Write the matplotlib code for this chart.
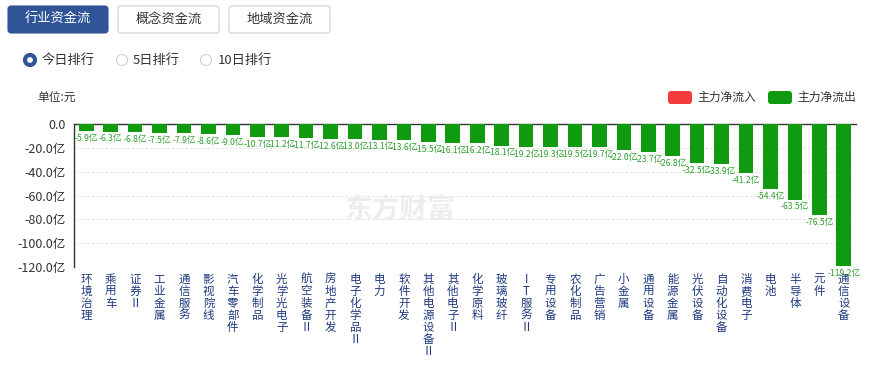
import matplotlib
matplotlib.use("Agg")
import matplotlib.pyplot as plt
from matplotlib.patches import FancyBboxPatch, Circle

plt.rcParams['font.family'] = ['Noto Sans CJK SC', 'DejaVu Sans']

categories = ["环境治理", "乘用车", "证券Ⅱ", "工业金属", "通信服务", "影视院线", "汽车零部件",
              "化学制品", "光学光电子", "航空装备Ⅱ", "房地产开发", "电子化学品Ⅱ", "电力", "软件开发",
              "其他电源设备Ⅱ", "其他电子Ⅱ", "化学原料", "玻璃玻纤", "IT服务Ⅱ", "专用设备", "农化制品",
              "广告营销", "小金属", "通用设备", "能源金属", "光伏设备", "自动化设备", "消费电子",
              "电池", "半导体", "元件", "通信设备"]
values = [-5.9, -6.3, -6.8, -7.5, -7.9, -8.6, -9.0, -10.7, -11.2, -11.7, -12.6, -13.0, -13.1, -13.6,
          -15.5, -16.1, -16.2, -18.1, -19.2, -19.3, -19.5, -19.7, -22.0, -23.7, -26.8, -32.5, -33.9,
          -41.2, -54.4, -63.5, -76.5, -119.2]
yticks = [0, -20, -40, -60, -80, -100, -120]
ytick_labels = ["0.0", "-20.0亿", "-40.0亿", "-60.0亿", "-80.0亿", "-100.0亿", "-120.0亿"]
tabs = ["行业资金流", "概念资金流", "地域资金流"]
radios = ["今日排行", "5日排行", "10日排行"]
legend_labels = ["主力净流入", "主力净流出"]

W, H = 870, 365
GREEN = "#0f9a0f"
RED = "#f23c3c"
NAVY = "#1f3a80"

fig = plt.figure(figsize=(W / 100, H / 100), dpi=100)
fig.patch.set_facecolor("white")

def fx(px):
    return px / W

def fy(py):
    return 1 - py / H

ax = fig.add_axes([fx(74), fy(267), fx(856 - 74), (267 - 124) / H])
x = list(range(len(categories)))
ax.bar(x, values, width=0.6, color=GREEN, zorder=3)
ax.set_ylim(-120, 0)
ax.set_xlim(-0.5, len(categories) - 0.5)
ax.set_yticks(yticks)
ax.set_yticklabels(ytick_labels, fontsize=9, color="#333333")
ax.tick_params(axis="y", length=0, pad=6)
ax.set_xticks([])
for s in ["right", "bottom"]:
    ax.spines[s].set_visible(False)
ax.spines["top"].set_color("#333333")
ax.spines["left"].set_color("#333333")
ax.spines["top"].set_linewidth(1)
ax.spines["left"].set_linewidth(1)
for yt in yticks[1:]:
    ax.axhline(yt, color="#e2e2e2", lw=0.8, ls=(0, (2, 2)), zorder=1)

for xi, v in zip(x, values):
    ax.annotate(f"{v:.1f}亿", (xi, v), xytext=(0, -2), textcoords="offset points",
                ha="center", va="top", fontsize=6.2, color="#2e9e2e", zorder=4)

for xi, c in zip(x, categories):
    ax.annotate("\n".join(c), (xi, -120), xytext=(0, -4), textcoords="offset points",
                ha="center", va="top", fontsize=8.3, color=NAVY, linespacing=0.9,
                annotation_clip=False)

# watermark
fig.text(fx(400), fy(210), "东方财富", fontsize=20, color="#ededed", ha="center", va="center",
         fontweight="bold", zorder=0)

# overlay axes in pixel coordinates for decorations
ax_r = fig.add_axes([0, 0, 1, 1], facecolor="none")
ax_r.set_xlim(0, W)
ax_r.set_ylim(H, 0)
ax_r.axis("off")

# tabs
tab_x = [(8, 108), (118, 219), (229, 330)]
for i, ((x0, x1), t) in enumerate(zip(tab_x, tabs)):
    first = i == 0
    ax_r.add_patch(FancyBboxPatch((x0, 6), x1 - x0, 27, boxstyle="round,pad=0,rounding_size=3",
                                  facecolor="#2f5597" if first else "white",
                                  edgecolor="#2f5597" if first else "#cfcfcf", lw=0.8))
    fig.text(fx((x0 + x1) / 2), fy(19.5), t, fontsize=9.5, ha="center", va="center",
             color="white" if first else "#333333")

# radios
radio_pos = [(30, 42), (122, 133), (206, 218)]
for i, ((cx, tx), r) in enumerate(zip(radio_pos, radios)):
    if i == 0:
        ax_r.add_patch(Circle((cx, 60), 5.0, facecolor="white", edgecolor="#2f5597", lw=3))
    else:
        ax_r.add_patch(Circle((cx, 60), 5.5, facecolor="white", edgecolor="#d0d0d0", lw=0.8))
    fig.text(fx(tx), fy(60), r, fontsize=9.5, ha="left", va="center", color="#333333")

fig.text(fx(37), fy(97), "单位:元", fontsize=8.5, ha="left", va="center", color="#333333")

# legend
leg = [(668, RED, legend_labels[0]), (768, GREEN, legend_labels[1])]
for lx, col, lab in leg:
    ax_r.add_patch(FancyBboxPatch((lx, 91), 24, 13, boxstyle="round,pad=0,rounding_size=3",
                                  facecolor=col, edgecolor="none"))
    fig.text(fx(lx + 29), fy(97.5), lab, fontsize=8.5, ha="left", va="center", color="#333333")

fig.savefig("out.png", dpi=100)
